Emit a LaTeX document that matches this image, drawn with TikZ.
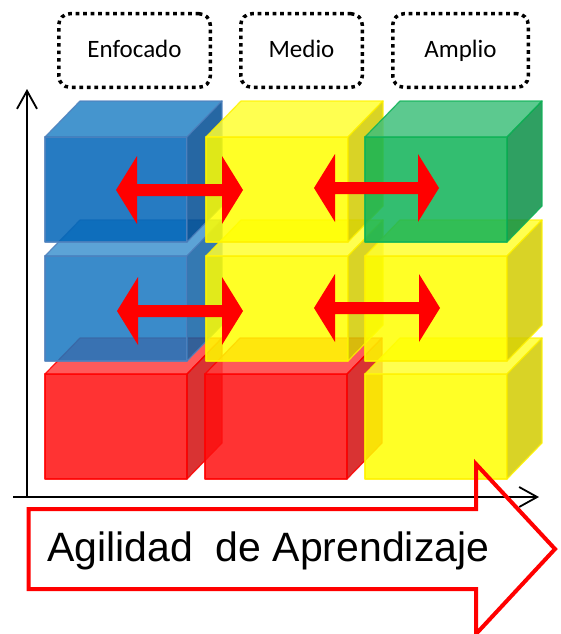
\documentclass[tikz,border=0pt]{standalone}
\usepackage{fontspec}
\setmainfont{Liberation Sans}
\newfontfamily\boxfont{Carlito}
\usetikzlibrary{arrows.meta}

\definecolor{blueAfront}{HTML}{0064B7}
\definecolor{blueAtop}{HTML}{2583C5}
\definecolor{blueAside}{HTML}{004C93}
\definecolor{blueBfront}{HTML}{1777C1}
\definecolor{blueBtop}{HTML}{4093CF}
\definecolor{blueBside}{HTML}{1161A4}
\definecolor{blueedge}{HTML}{4F81BD}
\definecolor{redfront}{HTML}{FF0F0F}
\definecolor{redtop}{HTML}{FF3D3D}
\definecolor{redside}{HTML}{D20F0F}
\definecolor{yelfront}{HTML}{FFFF00}
\definecolor{yeltop}{HTML}{FFFF31}
\definecolor{yelside}{HTML}{D2CB00}
\definecolor{grnfront}{HTML}{0FB357}
\definecolor{grntop}{HTML}{3FBF7B}
\definecolor{grnside}{HTML}{0A8F46}

\tikzset{
	face/.style={fill opacity=0.85, draw opacity=0.85, line width=1.2pt, line join=round},
	pics/cube/.style n args={4}{code={
		\filldraw[face, fill=#1, draw=#4] (0, 0) rectangle (142, 105);
		\filldraw[face, fill=#2, draw=#4] (0, 0) -- (35, -36) -- (177, -36) -- (142, 0) -- cycle;
		\filldraw[face, fill=#3, draw=#4] (142, 0) -- (177, -36) -- (177, 69) -- (142, 105) -- cycle;
	}},
	levelbox/.style={draw, line width=3.5pt, dash pattern=on 3.6pt off 3.9pt, rounded corners=11pt,
		inner sep=0pt, minimum height=73.5pt, text height=18pt, text depth=5pt,
		font=\boxfont\fontsize{25}{30}\selectfont},
	axis/.style={line width=1.8pt, -{Straight Barb[length=18pt, width=20pt]}},
}

\begin{document}
\begin{tikzpicture}[x=1pt, y=-1pt]
		\useasboundingbox (0, 0) rectangle (560, 634);
		
		% levels
		\node[levelbox, minimum width=151.5pt] (enfocado) at (134.5, 50.5) {Enfocado};
		\node[levelbox, minimum width=121.5pt] (medio) at (301.5, 50.5) {Medio};
		\node[levelbox, minimum width=135.5pt] (amplio) at (460.5, 50.5) {Amplio};
		
		% axes
		\draw[axis] (27, 497) -- (27, 89);
		\draw[axis] (13, 497) -- (539, 497);
		
		% bottom row
		\pic at (45, 374) {cube={redfront}{redtop}{redside}{red}};
		\pic at (205, 374) {cube={redfront}{redtop}{redside}{red}};
		\pic at (365, 374) {cube={yelfront}{yeltop}{yelside}{yellow}};
		% middle row
		\pic at (45, 256) {cube={blueBfront}{blueBtop}{blueBside}{blueedge}};
		\pic at (206, 256) {cube={yelfront}{yeltop}{yelside}{yellow}};
		\pic at (365, 256) {cube={yelfront}{yeltop}{yelside}{yellow}};
		% top row
		\pic at (45, 137) {cube={blueAfront}{blueAtop}{blueAside}{blueedge}};
		\pic at (206, 137) {cube={yelfront}{yeltop}{yelside}{yellow}};
		\pic at (365, 137) {cube={grnfront}{grntop}{grnside}{grnfront}};
		
		% red double arrows
		\foreach \xa/\xb/\yc in {116/243/190, 314/439/188, 117/243/311, 314/440/308}
			\fill[red] (\xa, \yc) -- (\xa+21, \yc-34) -- (\xa+21, \yc-6) -- (\xb-21, \yc-6) -- (\xb-21, \yc-34)
				-- (\xb, \yc) -- (\xb-21, \yc+34) -- (\xb-21, \yc+6) -- (\xa+21, \yc+6) -- (\xa+21, \yc+34) -- cycle;
		
		% big arrow
		\draw[red, line width=4pt, line join=miter] (28.5, 509) -- (476, 509) -- (476, 464) -- (555, 549)
			-- (476, 634) -- (476, 589) -- (28.5, 589) -- cycle;
		\node[anchor=base west, inner sep=0pt, font=\fontsize{41}{49}\selectfont] (agilidad) at (47, 561) {Agilidad\ \ de Aprendizaje};
	\end{tikzpicture}
\end{document}
